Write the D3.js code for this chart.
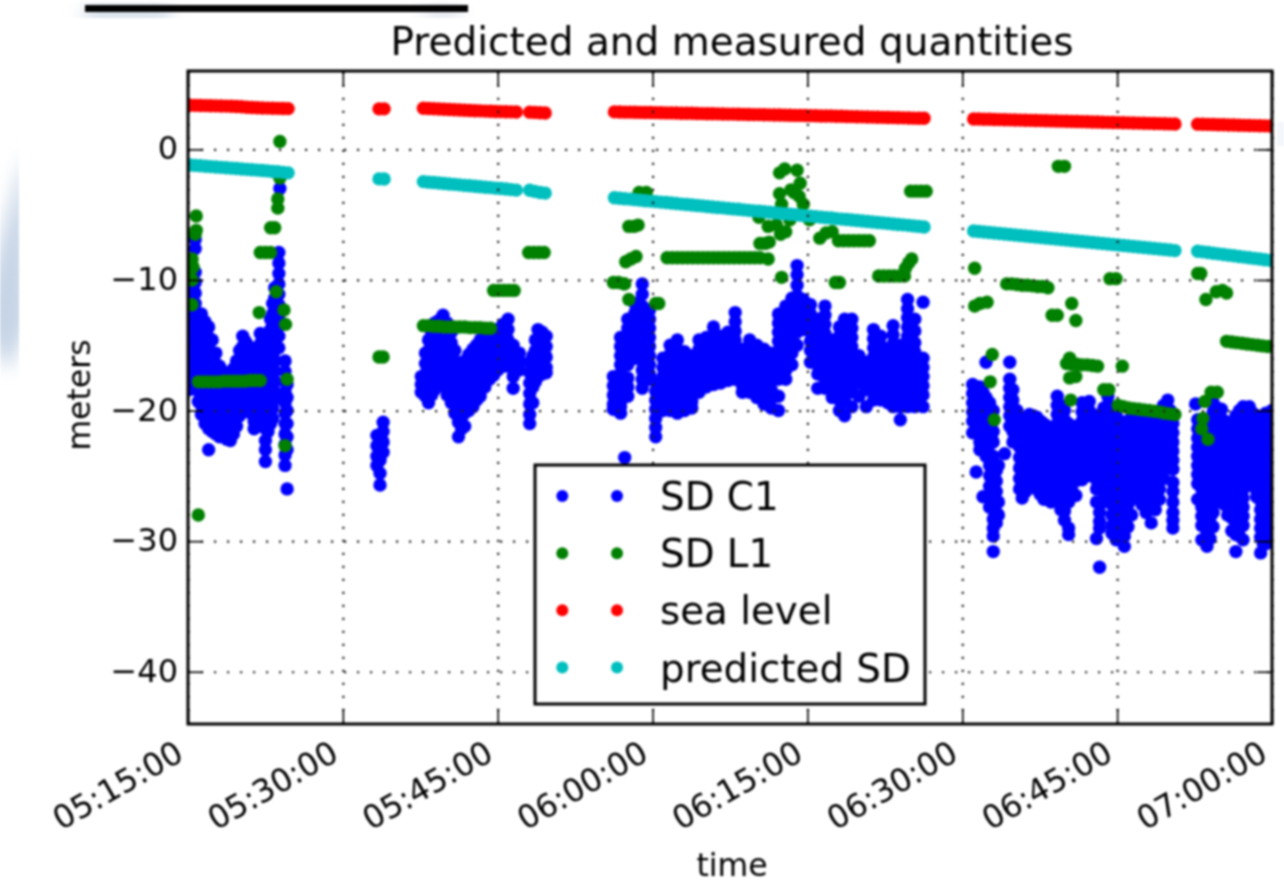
<!DOCTYPE html>
<html>
<head>
<meta charset="utf-8">
<script src="https://cdn.jsdelivr.net/npm/d3@7"></script>
<style>
  html, body { margin: 0; padding: 0; background: #fff; }
  svg { display: block; filter: blur(0.9px); }
  text { font-family: "DejaVu Sans", sans-serif; fill: #000; }
</style>
</head>
<body>
<div class="canvas"></div>
<script>
// every value: minutes after 05:15 and metres

const xTickMinutes = [0, 15, 30, 45, 60, 75, 90, 105];
const yTicks = [0, -10, -20, -30, -40];
const legendLabels = ["SD C1", "SD L1", "sea level", "predicted SD"];
const seriesColors = ["#0000ff", "#008000", "#ff0000", "#00bfbf"];

// runs of evenly sampled dots: first item is the start minute, the rest are values
const dotStep = 0.5;

const seaLevelRuns = [
  [0.2,3.38,3.37,3.36,3.35,3.34,3.33,3.32,3.31,3.3,3.28,3.26,3.23,3.21,3.19,3.17,3.16,3.15,3.14,3.13,3.12],
  [18.5,3.1,3.1],
  [22.8,3.15,3.13,3.11,3.09,3.07,3.05,3.03,3.01,3,2.98,2.96,2.95,2.93,2.92,2.9,2.89,2.88,2.87,2.86],
  [33.1,2.85,2.83,2.8,2.78],
  [41.3,2.87,2.86,2.85,2.85,2.84,2.83,2.82,2.82,2.81,2.8,2.79,2.79,2.78,2.77,2.76,2.76,2.75,2.74,2.73,2.73,
    2.72,2.71,2.7,2.7,2.69,2.68,2.67,2.66,2.66,2.65,2.64,2.63,2.63,2.62,2.61,2.6,2.6,2.59,2.58,2.57,
    2.56,2.56,2.55,2.54,2.53,2.52,2.51,2.5,2.49,2.48,2.47,2.46,2.45,2.44,2.43,2.42,2.41,2.4,2.39,2.38,2.38],
  [76.1,2.33,2.32,2.31,2.3,2.29,2.28,2.27,2.26,2.25,2.24,2.23,2.22,2.21,2.2,2.19,2.18,2.17,2.16,2.15,2.14,
    2.13,2.12,2.11,2.1,2.09,2.08,2.07,2.06,2.05,2.04,2.03,2.02,2.01,2,1.99,1.98,1.97,1.96,1.95,1.94],
  [97.8,1.93,1.92,1.91,1.9,1.89,1.88,1.87,1.86,1.85,1.84,1.83,1.82,1.81,1.8,1.79]
];

const predictedRuns = [
  [0.2,-1.2,-1.23,-1.26,-1.29,-1.32,-1.35,-1.38,-1.41,-1.44,-1.47,-1.5,-1.53,-1.56,-1.59,-1.62,-1.65,-1.69,-1.72,-1.76,-1.8],
  [18.5,-2.26,-2.27],
  [22.8,-2.47,-2.51,-2.54,-2.58,-2.61,-2.65,-2.68,-2.72,-2.76,-2.79,-2.83,-2.86,-2.9,-2.93,-2.97,-3,-3.04,-3.08,-3.12],
  [33.1,-3.13,-3.22,-3.3,-3.35],
  [41.3,-3.7,-3.74,-3.78,-3.81,-3.85,-3.89,-3.93,-3.96,-4,-4.04,-4.07,-4.11,-4.15,-4.19,-4.22,-4.26,-4.3,-4.33,-4.37,-4.41,
    -4.45,-4.48,-4.52,-4.56,-4.59,-4.63,-4.67,-4.71,-4.74,-4.78,-4.82,-4.85,-4.89,-4.93,-4.97,-5,-5.04,-5.08,-5.11,-5.15,
    -5.19,-5.23,-5.26,-5.3,-5.34,-5.37,-5.41,-5.45,-5.49,-5.52,-5.56,-5.6,-5.63,-5.67,-5.71,-5.75,-5.78,-5.82,-5.86,-5.9,-5.95],
  [76.1,-6.25,-6.29,-6.33,-6.37,-6.41,-6.44,-6.48,-6.52,-6.56,-6.6,-6.63,-6.67,-6.71,-6.75,-6.79,-6.83,-6.86,-6.9,-6.94,-6.98,
    -7.02,-7.06,-7.09,-7.13,-7.17,-7.21,-7.25,-7.29,-7.32,-7.36,-7.4,-7.44,-7.48,-7.52,-7.55,-7.59,-7.63,-7.67,-7.71,-7.75],
  [97.8,-7.8,-7.85,-7.9,-7.95,-8,-8.05,-8.1,-8.15,-8.2,-8.25,-8.3,-8.35,-8.4,-8.45,-8.5]
];

const greenRuns = [
  [1,-17.8,-17.8,-17.8,-17.8,-17.8,-17.75,-17.75,-17.75,-17.75,-17.75,-17.7,-17.7,-17.7],
  [7,-7.9,-7.9,-7.9],
  [22.8,-13.5,-13.5,-13.55,-13.55,-13.6,-13.6,-13.6,-13.6,-13.6,-13.65,-13.65,-13.65,-13.7,-13.7],
  [29.6,-10.8,-10.8,-10.8,-10.8,-10.8],
  [33,-7.9,-7.9,-7.9,-7.9],
  [41.2,-10.2,-10.2,-10.3],
  [46.4,-8.3,-8.3,-8.3,-8.3,-8.3,-8.3,-8.3,-8.3,-8.3,-8.3,-8.3,-8.3,-8.3,-8.3,-8.3,-8.3,-8.3,-8.3,-8.3],
  [63,-7,-7,-7,-7,-7,-7,-7],
  [66.9,-9.7,-9.7,-9.7,-9.7,-9.7,-9.7],
  [70,-3.2,-3.2,-3.2,-3.2],
  [79.3,-10.3,-10.3,-10.35,-10.4,-10.4,-10.45,-10.5,-10.5,-10.6],
  [85.1,-16.4,-16.45,-16.45,-16.5,-16.5,-16.55,-16.6],
  [90.1,-19.6,-19.7,-19.8,-19.85,-19.9,-19.95,-20,-20.05,-20.1,-20.2,-20.25,-20.3],
  [100.6,-14.7,-14.75,-14.8,-14.85,-14.9,-14.95,-15,-15.05,-15.1]
];

// scattered SD L1 dots as [minute, value]
const greenPoints = [
  [0.8,-5.1],[0.8,-6.2],[0.7,-6.5],[0.4,-8.4],[0.5,-9],[0.2,-9.6],[0.4,-10],[0.4,-11.9],
  [6.9,-12.5],[8,-6],[8.4,-6],[8.7,-3.8],[8.7,-4.5],[8.9,0.6],[8.9,-2.2],[8.55,-10.9],
  [9.3,-12.3],[9.45,-13.4],[9.6,-17.6],[9.4,-22.7],[1,-28],
  [18.5,-15.9],[18.9,-15.9],
  [42.3,-10.3],[42.7,-11.5],[45.3,-11.8],[45.6,-11.8],[42.4,-8.6],[42.9,-8.4],[43.4,-8.2],
  [42.7,-5.9],[43.6,-5.8],[43.2,-5.9],[43.7,-3.3],[44.4,-3.3],
  [56.2,-8.4],[55.4,-7.2],[55.9,-7.2],[56.3,-7.1],[55.3,-5.2],[56.2,-5.9],[57,-5.8],[57.4,-6.5],[57.9,-6.3],[57.5,-9.8],
  [57.3,-1.8],[57.8,-1.5],[59,-1.6],[59.3,-2.6],[58.4,-3.1],[57.3,-3.4],[59.2,-3.6],[58.7,-3.3],
  [57.5,-4.2],[59.6,-4.2],[58.3,-5.4],[60.2,-5.4],[61.2,-6.8],[61.8,-6.4],[62.4,-6.3],
  [62.7,-10.2],[63.1,-10.2],[69.5,-9.1],[69.8,-8.7],[70.1,-8.4],
  [76.2,-9.1],[76.2,-12],[76.7,-11.8],[77.4,-11.7],[77.9,-15.7],[77.7,-17.8],[78.1,-20.7],
  [83.7,-12.7],[84.2,-12.7],[84.3,-1.3],[84.9,-1.3],[85.6,-11.8],[86,-13.1],[85.4,-16],
  [85.4,-17.5],[86,-17.4],[85.5,-19.2],[88.7,-18.4],[89.2,-18.4],[89.3,-9.9],[89.9,-9.9],[90.5,-16.6],
  [97.8,-9.5],[98.1,-9.5],[98.6,-11.5],[99.6,-10.9],[100.2,-10.8],[100.6,-11],
  [98.3,-20.6],[98.2,-21.4],[98.8,-22.2],[98.5,-19.3],[99.1,-18.6],[99.7,-18.6]
];

// SD C1 columns: first item is the minute, the rest are the values at that minute
const blueColumnsA = [
  [0.1,-9.6,-10.4,-11.2,-12,-12.8,-13.6,-14.4,-15.2,-16,-16.8,-17.6,-18.4],
  [0.7,-6.9,-7.6,-9.4,-10.2,-11,-11.8,-12.4,-13.2,-14,-14.8,-15.6,-16.4,-17.2,-18],
  [1,-12.9,-13.7,-14.5,-15.3,-16.1,-16.9,-17.7,-18.5,-19.3],
  [1.3,-12.6,-13.3,-14.1,-14.9,-15.7,-16.5,-17.3,-18.1,-18.9,-19.6,-20.3],
  [1.65,-13.2,-14,-14.8,-15.6,-16.4,-17.2,-18,-18.8,-19.6,-20.4,-21],
  [2,-13.6,-14.4,-15.2,-16,-16.8,-17.6,-18.4,-19.2,-20,-20.8,-21.4,-23],
  [2.35,-14.6,-15.8,-16.8,-17.6,-18.4,-19.2,-20,-20.8,-21.6],
  [2.7,-15.6,-16.4,-17.2,-18,-18.8,-19.6,-20.4,-21.2,-21.8],
  [3.05,-16.6,-17.4,-18.2,-19,-19.8,-20.6,-21.4,-22],
  [3.4,-17,-17.8,-18.6,-19.4,-20.2,-21,-21.8],
  [3.75,-17.3,-18.4,-19.2,-20,-20.8,-21.6,-22.2],
  [4.1,-17.4,-18.2,-19,-19.8,-20.6,-21.4,-22.3],
  [4.4,-16.8,-17.6,-18.4,-19.2,-20,-20.8,-21.8],
  [4.7,-16.2,-17,-17.8,-18.6,-19.4,-20.2,-21.2],
  [5,-15.4,-16.3,-17.2,-18,-18.8,-19.6,-20.4],
  [5.3,-14.3,-15.1,-15.9,-16.7,-17.5,-18.3,-19],
  [5.55,-14.7,-15.5,-16.3,-17.1,-17.9,-18.7,-19.4],
  [5.8,-15,-15.8,-16.6,-17.4,-18.2,-19,-19.8],
  [6.1,-15.4,-16.2,-17,-17.8,-18.6,-19.4,-20.2],
  [6.4,-16,-16.8,-17.6,-18.4,-19.2,-20,-20.8,-21.4],
  [6.7,-15.2,-16.1,-17,-17.8,-18.6,-19.4,-20.2,-21.2],
  [7,-14.1,-14.9,-15.7,-16.5,-17.3,-18.1,-18.9,-19.7,-20.5,-21],
  [7.25,-14.5,-15.3,-16.1,-16.9,-17.7,-18.5,-19.3,-20.1,-20.9],
  [7.5,-15,-15.8,-16.6,-17.4,-18.2,-19,-19.8,-20.6,-21.4,-22.3,-23,-23.9],
  [7.75,-14.4,-15.2,-16,-16.8,-17.6,-18.4,-19.2,-20,-20.8,-21.6],
  [8,-13,-13.8,-14.6,-15.4,-16.2,-17,-17.8,-18.6,-19.4,-20.2,-21],
  [8.2,-11.8,-12.6,-13.4,-14.2,-15,-15.8,-16.6,-17.4,-18.2,-19,-19.8,-20.6],
  [8.4,-10.6,-11.4,-12.2,-13,-13.8,-14.6,-15.4,-16.2,-17,-17.8,-18.6,-19.1],
  [8.8,-7.9,-8.7,-9.5,-10.3,-11.1,-11.9,-12.7,-13.5,-14.3,-15.2],
  [8.9,-3],
  [9.4,-16.2,-17,-17.8,-18.6,-19.4,-20.2,-21,-21.8,-22.6,-23.4,-24.2],
  [9.6,-18,-19,-20,-21,-22,-23,-26],
  [18.3,-21.9,-22.7,-23.5,-24.2],
  [18.6,-22,-23,-23.8,-24.8,-25.7],
  [18.9,-20.9,-21.6,-22.4,-23.2],
  [22.6,-17.4,-18,-18.6],
  [23,-15.6,-16.4,-17.2,-18,-18.9],
  [23.3,-14.6,-15.4,-16.2,-17,-17.8,-18.6,-19.4],
  [23.6,-14,-14.8,-15.6,-16.4,-17.2,-18,-18.8],
  [23.9,-13.3,-14.1,-14.9,-15.7,-16.5,-17.3,-18.4],
  [24.3,-13.1,-13.9,-14.7,-15.5,-16.3,-17.1,-17.9],
  [24.7,-12.7,-13.5,-14.3,-15.1,-15.9,-16.7,-17.5,-18.1],
  [25.1,-13.3,-14.1,-14.9,-15.7,-16.5,-17.3,-18.1,-18.8],
  [25.5,-14,-14.8,-15.6,-16.4,-17.2,-18,-18.8,-19.4],
  [25.85,-15.4,-16.2,-17,-17.8,-18.6,-19.4,-20.2],
  [26.2,-16.9,-17.7,-18.5,-19.3,-20.1,-20.9,-22],
  [26.5,-16.5,-17.3,-18.1,-18.9,-19.7,-20.5,-21.4],
  [26.8,-16.2,-17,-17.8,-18.6,-19.4,-20.2,-21.2],
  [27.2,-15.7,-16.5,-17.3,-18.1,-18.9,-20],
  [27.6,-15.3,-16.1,-16.9,-17.7,-18.5,-19.7],
  [27.95,-15,-15.8,-16.6,-17.4,-18.2,-19.2],
  [28.3,-14.6,-15.4,-16.2,-17,-17.8,-18.9],
  [28.75,-14.2,-15,-15.8,-16.6,-17.4,-18.2],
  [29.2,-13.8,-14.6,-15.4,-16.2,-17,-17.6],
  [29.6,-13.8,-14.2,-15,-15.8,-16.6,-17.3],
  [30,-13.8,-14.6,-15.4,-16.2,-16.9],
  [30.5,-13.4,-14.2,-15,-15.8,-16.6],
  [31,-13,-13.8,-14.6,-15.4,-16.6],
  [31.5,-15,-15.8,-16.6,-17.4,-18.3],
  [32.1,-15.6,-16.2,-16.9],
  [33.1,-16.3,-17.1,-17.9,-18.7,-19.5,-20.3,-21],
  [33.4,-15.8,-16.6,-17.4,-18.2,-19.4],
  [33.65,-14.6,-15.4,-16.2,-17,-17.8],
  [33.9,-13.8,-14.6,-15.4,-16.2,-17,-17.4],
  [34.3,-14,-14.8,-15.6,-16.4,-17.2],
  [34.7,-14.3,-15.1,-15.9,-16.7,-17.1]
];

const blueColumnsB = [
  [41.2,-17.4,-18.1,-18.8,-19.5,-19.9],
  [41.9,-14.4,-15.1,-15.8,-16.5,-17.2,-17.9,-18.6,-19.3,-19.7,-20.2],
  [42.3,-23.6],
  [42.6,-13,-13.7,-14.4,-15.1,-15.8,-16.5,-17.5,-18.2,-18.9],
  [43.3,-11.8,-12.5,-13.2,-13.9,-14.6,-15.3,-16],
  [44,-10.3,-11.1,-12,-12.7,-13.4,-14.1,-14.8,-15.5,-16.2,-16.9,-17.6,-18.3],
  [44.7,-12.3,-13,-13.7,-14.4,-15.1,-15.8,-16.5,-17.2,-17.6],
  [45.3,-17.8,-18.5,-19.2,-19.9,-20.6,-21.3,-22],
  [46,-16,-16.7,-17.4,-18.1,-18.8,-19.5,-20],
  [46.7,-15,-15.7,-16.4,-17.1,-17.8,-18.5,-19.2,-20],
  [47.4,-14.6,-15.3,-16,-16.7,-17.4,-18.1,-18.8,-19.5,-20.2],
  [48.1,-15.5,-16.2,-16.9,-17.6,-18.3,-19,-20],
  [48.8,-15.8,-16.5,-17.2,-17.9,-18.6,-19.3,-19.8],
  [49.5,-14.6,-15.3,-16,-16.7,-17.4,-18.1,-18.6],
  [50.2,-14.4,-15.1,-15.8,-16.5,-17.2,-17.9,-18.2],
  [50.9,-13.6,-14.3,-15,-15.7,-16.4,-17.1,-18],
  [51.6,-14.3,-15,-15.7,-16.4,-17.1,-17.9],
  [52.3,-14,-14.7,-15.4,-16.1,-16.8,-17.7],
  [53,-12.5,-13.2,-13.9,-14.6,-15.3,-16,-16.7,-17.6],
  [53.7,-15.3,-16,-16.7,-17.4,-18.1,-18.6],
  [54.4,-14.6,-15.3,-16,-16.7,-17.4,-18.1,-18.6],
  [55.1,-15,-15.7,-16.4,-17.1,-17.8,-18.5,-19],
  [55.8,-15.3,-16,-16.7,-17.4,-18.1,-18.8,-19.5],
  [56.5,-15.6,-16.3,-17,-17.7,-18.4,-19.1,-19.8],
  [57.2,-12.6,-13.3,-14,-14.7,-15.4,-16.1,-16.8,-17.6,-18.9,-20],
  [57.9,-12,-12.7,-13.4,-14.1,-14.8,-15.5,-16.2,-16.9,-17.6],
  [58.5,-11.4,-12.1,-12.8,-13.5,-14.2,-14.9,-15.6,-16.5],
  [59,-8.9,-9.6,-10.4,-11.2,-11.9,-12.6,-13.3,-14,-15],
  [59.6,-11.5,-12.3,-13.1,-13.8],
  [60.3,-11.9,-12.6,-13.3,-14,-14.7,-15.4,-16.3],
  [61,-13,-13.7,-14.4,-15.1,-15.8,-16.5,-17.2,-18.3],
  [61.7,-12,-12.7,-13.4,-14.1,-14.8,-15.5,-16.2,-16.9,-17.6,-18.3],
  [62.4,-14.6,-15.3,-16,-16.7,-17.4,-18.1,-19],
  [63.1,-13.6,-14.3,-15,-15.7,-16.4,-17.1,-17.8,-18.5,-19.2,-20],
  [63.6,-13,-13.7,-14.4,-15.1,-15.8,-16.5,-17.2,-17.9,-18.6,-19.3,-20.4],
  [64.3,-13,-13.7,-14.4,-15.1,-15.8,-16.5,-17.2,-17.9,-18.6,-19.7],
  [65,-15.8,-16.5,-17.2,-17.9,-18.9],
  [65.7,-16.3,-17,-17.7,-18.4,-19.7],
  [66.4,-13.8,-14.5,-15.2,-15.9,-16.6,-17.3,-18,-18.7,-19.2],
  [67.1,-14.3,-15,-15.7,-16.4,-17.1,-17.8,-18.5,-19.2],
  [67.8,-15.4,-16.1,-16.8,-17.5,-18.2,-18.9,-19.4],
  [68.3,-13.5,-14.2,-14.9,-15.6,-16.3,-17,-17.7,-18.4,-19.1,-19.7],
  [69,-15,-15.7,-16.4,-17.1,-17.8,-18.5,-19.2,-19.7,-20.7],
  [69.7,-11.5,-12.2,-12.9,-13.6,-14.3,-15,-15.7,-16.4,-17.1,-17.8,-18.5,-19.2,-19.7],
  [70.4,-13,-13.9,-14.8,-15.5,-16.2,-16.9,-17.6,-18.3,-19,-19.7],
  [71.2,-11.7,-16,-16.7,-17.4,-18.1,-18.8,-19.7]
];

const blueColumnsC = [
  [76,-18,-18.7,-19.4,-20.1,-20.8,-21.7],
  [76.35,-18.2,-19,-19.8,-20.6,-21.4,-24.7],
  [76.7,-18.2,-18.9,-19.6,-20.3,-21,-21.7,-22.4,-23],
  [77,-18.6,-19.4,-20.2,-21,-21.8,-22.6,-26.6],
  [77.3,-16.3,-19,-19.7,-20.4,-21.1,-21.8,-22.5,-23.5],
  [77.65,-19.4,-20.2,-21,-21.8,-22.6,-23.4,-24.2,-25,-25.8,-26.6,-27.4],
  [78,-20,-20.8,-21.6,-22.4,-23.5,-24.3,-25.1,-25.9,-26.7,-27.5,-28.3,-29,-29.6,-30.8],
  [78.3,-24.6,-25.4,-26.2,-27,-27.8,-28.6],
  [78.5,-24.2,-27,-28],
  [79.1,-23.3],
  [79.6,-16.3,-17.6,-18.3,-19,-19.7,-20.4,-21.2],
  [79.9,-18.4,-19.2,-20,-20.8,-21.6,-22.4],
  [80.3,-20,-20.7,-21.4,-22.5],
  [80.55,-21.2,-22,-22.8,-23.6,-24.4,-25.2,-26],
  [80.8,-22,-22.7,-23.4,-24.1,-24.8,-25.5,-26.2,-26.7],
  [81.15,-20.6,-21.4,-22.2,-23,-23.8,-24.6,-25.4,-26.2],
  [81.5,-20.3,-21,-21.7,-22.4,-23.1,-23.8,-24.5,-25.5],
  [81.85,-20.4,-21.2,-22,-22.8,-23.6,-24.4,-25.2,-25.8],
  [82.2,-20.5,-21.2,-21.9,-22.6,-23.3,-24,-24.7,-25.4,-26],
  [82.55,-20.8,-21.6,-22.4,-23.2,-24,-24.8,-25.6,-26.4],
  [82.9,-21,-21.7,-22.4,-23.1,-23.8,-24.5,-25.2,-25.9,-26.8],
  [83.25,-21.2,-22,-22.8,-23.6,-24.4,-25.2,-26,-26.8],
  [83.6,-21.5,-22.2,-22.9,-23.6,-24.3,-25,-25.7,-26.4,-27],
  [84.2,-18.9,-19.6,-20.3,-21,-21.7,-22.4,-23.1,-23.8,-24.5,-25.5],
  [84.55,-19.6,-20.4,-21.2,-22,-22.8,-23.6,-24.4,-25.2,-26,-26.8,-27.6],
  [84.9,-20,-20.7,-21.4,-22.1,-22.8,-23.5,-24.2,-24.9,-25.6,-26.3,-27,-27.7,-28.4],
  [85.3,-21,-21.7,-22.4,-23.1,-23.8,-24.5,-25.2,-25.9,-27,-29,-29.5],
  [85.65,-21.4,-22.2,-23,-23.8,-24.6,-25.4,-26.2],
  [86,-21.2,-21.9,-22.6,-23.3,-24,-24.7,-25.4,-26.5],
  [86.6,-19.4,-20.1,-20.8,-21.5,-22.2,-22.9,-23.6,-24.3,-25.3],
  [86.95,-19.6,-20.4,-21.2,-22,-22.8,-23.6,-24.4,-25],
  [87.3,-19.3,-20,-20.7,-21.4,-22.1,-22.8,-23.5,-24.2,-25],
  [88,-20.4,-21.1,-21.8,-22.5,-23.2,-23.9,-24.6,-25.3,-26,-27,-29.8],
  [88.3,-27,-27.8,-28.5,-29,-32],
  [88.7,-19.8,-20.6,-21.4,-22.2,-23,-23.8,-24.6,-25.4,-26.2,-27],
  [89.1,-18.9,-19.6,-20.3,-21,-21.7,-22.4,-23.1,-23.8,-24.5,-25.6],
  [89.5,-20,-20.8,-21.6,-22.4,-23.2,-24,-24.8,-25.6,-26.4,-27.2,-28,-28.8,-29.4],
  [89.9,-20.4,-21.1,-21.8,-22.5,-23.2,-23.9,-24.6,-25.3,-26,-26.7,-27.4,-28.1,-28.8,-29.9],
  [90.3,-20.8,-21.6,-22.4,-23.2,-24,-24.8,-25.6,-26.4,-27.2,-28,-28.8,-29.6],
  [90.7,-21.2,-21.9,-22.6,-23.3,-24,-24.7,-25.4,-26.1,-26.8,-27.5,-28.2,-28.9,-29.6,-30.4],
  [91.05,-20.8,-21.6,-22.4,-23.2,-24,-24.8,-25.6,-26.4,-27.2,-28,-28.9],
  [91.4,-20.5,-21.2,-21.9,-22.6,-23.3,-24,-24.7,-25.4,-26.1,-26.8,-28],
  [91.7,-20.8,-21.6,-22.4,-23.2,-24,-24.8,-25.6,-26.4],
  [92,-20.5,-21.2,-21.9,-22.6,-23.3,-24,-25],
  [92.4,-20.8,-21.6,-22.4,-23.2,-24,-24.8,-25.6,-26.4,-27.2],
  [92.8,-20.7,-21.4,-22.1,-22.8,-23.5,-24.2,-24.9,-25.6,-26.3,-27,-27.8],
  [93.3,-20.5,-21.2,-21.9,-22.6,-23.3,-24,-24.7,-25.4,-26.1,-26.8,-27.5,-28.6],
  [93.7,-20.4,-21.2,-22,-22.8,-23.6,-24.4,-25.2,-26,-26.8,-27.6],
  [94.1,-20.2,-20.9,-21.6,-22.3,-23,-23.7,-24.4,-25.1,-26,-26.8],
  [94.5,-19.6,-20.4,-21.2,-22,-22.8,-23.6,-24.4,-25.2],
  [94.9,-19.2,-19.9,-20.6,-21.3,-22,-22.7,-23.4,-24.3],
  [95.15,-20,-20.8,-21.6,-22.4,-23.2,-24],
  [95.4,-21,-21.7,-22.4,-23.1,-23.8,-24.5,-25.5,-26.2,-27,-27.8,-28.4,-29],
  [97.6,-19.5],
  [97.8,-20.7,-21.4,-22.1,-22.8,-23.5,-24.2,-24.9,-25.6,-26.8],
  [98.2,-22.5,-23.2,-23.9,-24.6,-25.3,-26,-26.7,-27.4,-28.1,-28.8,-29.9],
  [98.7,-23,-23.7,-24.4,-25.1,-25.8,-26.5,-27.2,-27.9,-28.6,-29.3,-30.4],
  [99,-21,-21.8,-22.6,-23.4,-24.2,-25,-25.8,-26.6,-27.4,-28.2,-29,-29.8],
  [99.3,-19.4,-20.1,-20.8,-21.5,-22.2,-22.9,-23.6,-24.3,-25,-25.7,-26.4,-27.1,-27.8,-28.9],
  [99.7,-19.8,-20.6,-21.4,-22.2,-23,-23.8,-24.6,-25.4,-26.2,-27],
  [100.1,-19.9,-20.6,-21.3,-22,-22.7,-23.4,-24.1,-25],
  [100.4,-20.8,-21.6,-22.4,-23.2,-24,-24.8,-25.6,-26.4,-27.2],
  [100.7,-21.5,-22.2,-22.9,-23.6,-24.3,-25,-25.7,-26.4,-27.1,-28],
  [101.1,-21,-21.8,-22.6,-23.4,-24.2,-25,-25.8,-26.6,-27.4,-28.2,-29.2],
  [101.5,-20.4,-21.1,-21.8,-22.5,-23.2,-23.9,-24.6,-25.3,-26,-26.7,-27.4,-28.1,-28.8,-29.5,-30.8],
  [101.85,-20,-20.8,-21.6,-22.4,-23.2,-24,-24.8,-25.6,-26.4,-27.2,-28,-28.8,-29.6],
  [102.2,-19.7,-20.4,-21.1,-21.8,-22.5,-23.2,-23.9,-24.6,-25.3,-26,-26.7,-27.4,-28.1,-28.8,-29.9],
  [102.5,-19.9,-20.7,-21.5,-22.3,-23.1,-23.9,-24.7,-25.5],
  [102.8,-19.7,-20.4,-21.1,-21.8,-22.5,-23.2,-23.9,-24.5],
  [103.15,-20.2,-21,-21.8,-22.6,-23.4,-24.2,-25,-25.8],
  [103.5,-20.4,-21.1,-21.8,-22.5,-23.2,-23.9,-24.6,-25.3,-26,-26.6],
  [103.9,-25.5,-26.2,-26.9,-27.6,-28.3,-29,-29.7,-30.9],
  [104.15,-20.6,-21.4,-22.2,-23,-23.8,-24.6,-25.4,-26.2,-27,-27.8,-28.6,-29.4,-30.2],
  [104.4,-20.2,-20.9,-21.6,-22.3,-23,-23.7,-24.4,-25.1,-25.8,-26.5,-27.2,-27.9,-28.6,-29.3,-30.2],
  [104.7,-20.4,-21.2,-22,-22.8,-23.6,-24.4,-25.2,-26,-26.8,-27.6,-28.4,-29.2],
  [105,-20,-20.7,-21.4,-22.1,-22.8,-23.5,-24.2,-24.9,-25.6,-26.3,-27,-27.7,-28.4,-29.1,-29.9]
];

const width = 1284;
const height = 882;
const plot = { left: 188, right: 1272, top: 71, bottom: 724 };
const plotW = plot.right - plot.left;
const plotH = plot.bottom - plot.top;
const dotRadius = 6.7;
const legendDotRadius = 6;

const start = new Date(2015, 0, 1, 5, 15);
const toTime = m => new Date(+start + m * 60000);

// flatten the reading tables into {m, v}
const fromRuns = runs => runs.flatMap(([m0, ...vals]) => vals.map((v, i) => ({ m: m0 + i * dotStep, v })));
const fromColumns = cols => cols.flatMap(([m, ...vals]) => vals.map(v => ({ m, v })));

const seriesData = [
  fromColumns([...blueColumnsA, ...blueColumnsB, ...blueColumnsC]),
  [...fromRuns(greenRuns), ...greenPoints.map(([m, v]) => ({ m, v }))],
  fromRuns(seaLevelRuns),
  fromRuns(predictedRuns)
];

const svg = d3.select(".canvas").append("svg").attr("width", width).attr("height", height);
const defs = svg.append("defs");

// faded picture behind the chart
defs.append("filter").attr("id", "soft").append("feGaussianBlur").attr("stdDeviation", 9);
defs.append("clipPath").attr("id", "sideClip").append("rect")
  .attr("width", 19).attr("height", 420);
defs.append("clipPath").attr("id", "topClip").append("rect")
  .attr("width", 480).attr("height", 18);
const side = svg.append("g").attr("clip-path", "url(#sideClip)")
  .append("g").attr("filter", "url(#soft)");
side.append("path").attr("d", "M-20,320 L25,150 L30,320 L8,372 Z").attr("fill", "#c6d4e6");
const topBand = svg.append("g").attr("clip-path", "url(#topClip)")
  .append("g").attr("filter", "url(#soft)");
topBand.append("rect").attr("x", 85).attr("y", 5).attr("width", 85).attr("height", 22).attr("fill", "#d3dde9");
topBand.append("rect").attr("x", 425).attr("y", 5).attr("width", 35).attr("height", 18).attr("fill", "#dfe5ee");
svg.append("rect").attr("x", 1277).attr("y", 122).attr("width", 7).attr("height", 24).attr("fill", "#f3f6fa");

// black bar cut from the slide above the plot
svg.append("rect").attr("x", 85).attr("y", 5).attr("width", 383).attr("height", 7).attr("fill", "#000");

//scales
const xScale = d3.scaleTime().domain([toTime(0), toTime(105)]).range([plot.left, plot.right]);
const yScale = d3.scaleLinear().domain([6, -44]).range([plot.top, plot.bottom]);

const graphClip = defs.append("clipPath").attr("id", "plotClip");
graphClip.append("rect").attr("x", plot.left).attr("y", plot.top).attr("width", plotW).attr("height", plotH);

// dots, in plotting order
const marks = svg.append("g").attr("clip-path", "url(#plotClip)");
seriesData.forEach((points, i) => {
  marks.append("g").selectAll("circle").data(points).enter().append("circle")
    .attr("cx", d => xScale(toTime(d.m)))
    .attr("cy", d => yScale(d.v))
    .attr("r", dotRadius)
    .attr("fill", seriesColors[i]);
});

const xTicks = xTickMinutes.map(toTime);
const timeLabel = d3.timeFormat("%H:%M:%S");

// grid
const grid = svg.append("g");
grid.append("g").attr("transform", `translate(0,${plot.bottom})`)
  .call(d3.axisBottom(xScale).tickValues(xTicks).tickSize(-plotH).tickFormat(""));
grid.append("g").attr("transform", `translate(${plot.left},0)`)
  .call(d3.axisLeft(yScale).tickValues(yTicks).tickSize(-plotW).tickFormat(""));
grid.selectAll(".domain").remove();
grid.selectAll("line").attr("stroke", "#222").attr("stroke-width", 2.2).attr("stroke-dasharray", "2.2 10.8");

// axes, ticks point inward on all four sides
const tickLen = 15;
const xAxisGroup = svg.append("g").attr("transform", `translate(0,${plot.bottom})`)
  .call(d3.axisBottom(xScale).tickValues(xTicks).tickSizeInner(-tickLen).tickSizeOuter(0).tickFormat(timeLabel).tickPadding(0));
const yAxisGroup = svg.append("g").attr("transform", `translate(${plot.left},0)`)
  .call(d3.axisLeft(yScale).tickValues(yTicks).tickSizeInner(-tickLen).tickSizeOuter(0).tickPadding(10));
const topAxis = svg.append("g").attr("transform", `translate(0,${plot.top})`)
  .call(d3.axisTop(xScale).tickValues(xTicks).tickSizeInner(-tickLen).tickSizeOuter(0).tickFormat(""));
const rightAxis = svg.append("g").attr("transform", `translate(${plot.right},0)`)
  .call(d3.axisRight(yScale).tickValues(yTicks).tickSizeInner(-tickLen).tickSizeOuter(0).tickFormat(""));

[xAxisGroup, yAxisGroup, topAxis, rightAxis].forEach(g => {
  g.select(".domain").remove();
  g.selectAll("line").attr("stroke", "#000").attr("stroke-width", 1.6);
});
yAxisGroup.selectAll("text").style("font-size", "32px").attr("dy", "0.3em");
xAxisGroup.selectAll("text")
  .style("font-size", "32px")
  .attr("text-anchor", "end")
  .attr("dy", 0)
  .attr("transform", "translate(-3,35) rotate(-30)");
svg.selectAll(".tick text").attr("font-family", null);

// frame
svg.append("rect").attr("x", plot.left).attr("y", plot.top).attr("width", plotW).attr("height", plotH)
  .attr("fill", "none").attr("stroke", "#000").attr("stroke-width", 3);

// titles
svg.append("text").attr("x", 732).attr("y", 55).attr("text-anchor", "middle")
  .style("font-size", "39px").text("Predicted and measured quantities");
svg.append("text").attr("x", 732).attr("y", 876).attr("text-anchor", "middle")
  .style("font-size", "31.5px").text("time");
svg.append("text").attr("transform", "translate(90,395) rotate(-90)").attr("text-anchor", "middle")
  .style("font-size", "31.5px").text("meters");

// legend
const legend = svg.append("g");
legend.append("rect").attr("x", 535).attr("y", 465).attr("width", 390).attr("height", 239)
  .attr("fill", "#fff").attr("stroke", "#000").attr("stroke-width", 3);
const legendY = d3.scalePoint().domain(legendLabels).range([496, 667.5]);
const legendRows = legend.selectAll("g").data(legendLabels).enter().append("g")
  .attr("transform", d => `translate(0,${legendY(d)})`);
[562.3, 617].forEach(cx => {
  legendRows.append("circle").attr("cx", cx).attr("r", legendDotRadius).attr("fill", (d, i) => seriesColors[i]);
});
legendRows.append("text").attr("x", 660).attr("y", 14).style("font-size", "38.8px").text(d => d);
</script>
</body>
</html>
